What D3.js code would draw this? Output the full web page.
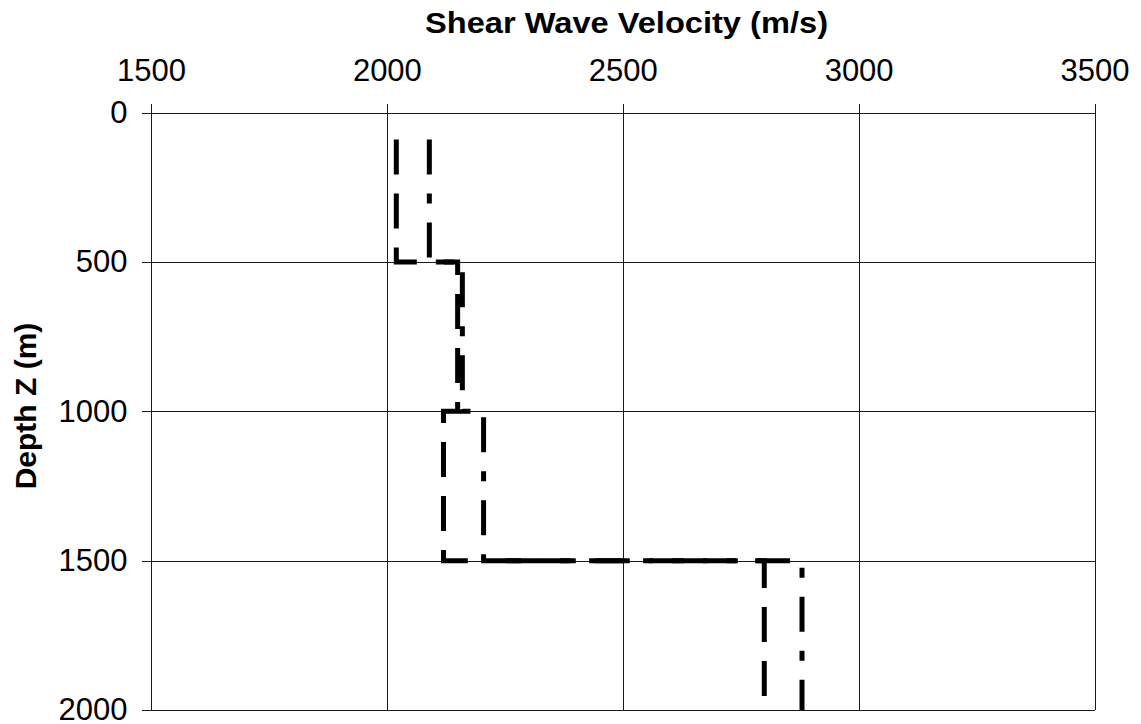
<!DOCTYPE html>
<html>
<head>
<meta charset="utf-8">
<script src="https://cdn.jsdelivr.net/npm/d3@7"></script>
<style>
  html, body { margin: 0; padding: 0; background: #fff; }
  svg { display: block; }
  text { font-family: "Liberation Sans", Arial, sans-serif; fill: #000; }
</style>
</head>
<body>
<svg id="chart" width="1141" height="724"></svg>
<script>
// ---- data ----
const xTicks = [1500, 2000, 2500, 3000, 3500];
const yTicks = [0, 500, 1000, 1500, 2000];
const xTitle = "Shear Wave Velocity (m/s)";
const yTitle = "Depth Z (m)";

// Profile 1 (long dash): velocity / depth pairs
const vel1   = [2020, 2020, 2150, 2150, 2120, 2120, 2800, 2800];
const depth1 = [90,   500,  500,  1000, 1000, 1500, 1500, 2000];
// Profile 2 (dash-dot)
const vel2   = [2090, 2090, 2160, 2160, 2205, 2205, 2880, 2880];
const depth2 = [90,   500,  500,  1000, 1000, 1500, 1500, 2000];

const seriesNames = ["Profile 1", "Profile 2"];

// ---- layout ----
const svg = d3.select("#chart");
const L = 151, R = 1094.5, T = 112.5, B = 710;

const x = d3.scaleLinear().domain([1500, 3500]).range([L, R]);
const y = d3.scaleLinear().domain([0, 2000]).range([T, B]);

// gridlines
const grid = svg.append("g").attr("stroke", "#1a1a1a").attr("stroke-width", 1).attr("shape-rendering", "crispEdges");
grid.selectAll("line.v").data(xTicks).join("line")
  .attr("x1", d => Math.round(x(d)) + 0.5).attr("x2", d => Math.round(x(d)) + 0.5)
  .attr("y1", T).attr("y2", B);
grid.selectAll("line.h").data(yTicks).join("line")
  .attr("y1", d => Math.round(y(d)) + 0.5).attr("y2", d => Math.round(y(d)) + 0.5)
  .attr("x1", L).attr("x2", R);

// axes
const xAxis = d3.axisTop(x).tickValues(xTicks).tickSize(10).tickPadding(23).tickFormat(d3.format("d"));
const gx = svg.append("g").attr("transform", `translate(0,${Math.round(T) + 0.5})`).call(xAxis);
gx.select(".domain").remove();
gx.selectAll(".tick line").attr("stroke", "#1a1a1a").attr("shape-rendering", "crispEdges");
gx.selectAll(".tick text").attr("font-size", 31).attr("font-family", "Liberation Sans, Arial, sans-serif").attr("fill", "#000");

const yAxis = d3.axisLeft(y).tickValues(yTicks).tickSize(10).tickPadding(14).tickFormat(d3.format("d"));
const gy = svg.append("g").attr("transform", `translate(${Math.round(L) + 0.5},0)`).call(yAxis);
gy.select(".domain").remove();
gy.selectAll(".tick line").attr("stroke", "#1a1a1a").attr("shape-rendering", "crispEdges");
gy.selectAll(".tick text").attr("font-size", 31).attr("font-family", "Liberation Sans, Arial, sans-serif").attr("fill", "#000");

// titles
svg.append("text").attr("x", 626.5).attr("y", 33).attr("text-anchor", "middle")
  .attr("font-size", 30).attr("font-weight", "bold")
  .attr("textLength", 403).attr("lengthAdjust", "spacingAndGlyphs")
  .text(xTitle);
svg.append("text").attr("transform", "translate(36,406) rotate(-90)").attr("text-anchor", "middle")
  .attr("font-size", 30).attr("font-weight", "bold").text(yTitle);

// series
const line = d3.line().x(d => x(d.v)).y(d => y(d.z)).curve(d3.curveLinear);
const series = [
  { name: seriesNames[0], pts: vel1.map((v, i) => ({ v, z: depth1[i] })), dash: "35,19" },
  { name: seriesNames[1], pts: vel2.map((v, i) => ({ v, z: depth2[i] })), dash: "35,19,10,19" }
];
svg.append("g").selectAll("path").data(series).join("path")
  .attr("d", d => line(d.pts))
  .attr("fill", "none")
  .attr("stroke", "#000")
  .attr("stroke-width", 5)
  .attr("stroke-linecap", "butt")
  .attr("stroke-linejoin", "miter")
  .attr("stroke-dasharray", d => d.dash);
</script>
</body>
</html>
